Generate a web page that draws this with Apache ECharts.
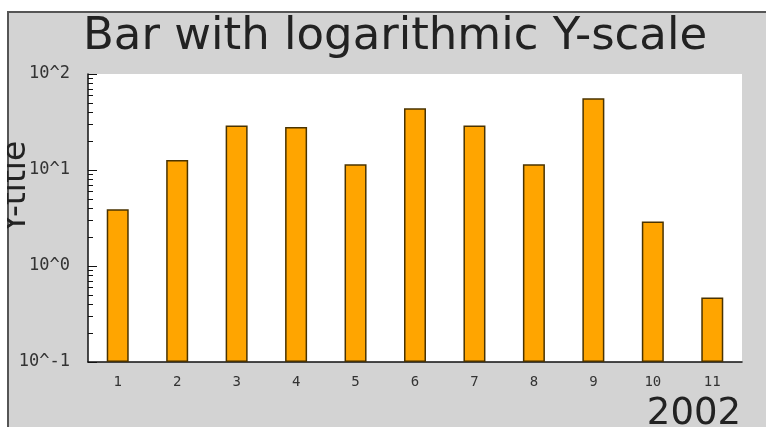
<!DOCTYPE html>
<html>
<head>
<meta charset="utf-8">
<script src="https://cdn.jsdelivr.net/npm/echarts@6/dist/echarts.min.js"></script>
<style>
  html, body { margin: 0; padding: 0; background: #fff; }
  #chart { width: 766px; height: 427px; }
</style>
</head>
<body>
<div id="chart"></div>
<script>
// categories and values
const categories = ['1', '2', '3', '4', '5', '6', '7', '8', '9', '10', '11']
const values = [3.9, 12.7, 29, 28, 11.5, 44, 29, 11.5, 56, 2.9, 0.47]
const majorTicks = [0.1, 1, 10, 100]
const minorTicks = []
for (const d of [0.1, 1, 10]) {
  for (let k = 2; k <= 9; k++) minorTicks.push(+(d * k).toPrecision(3))
}

const chart = echarts.init(document.getElementById('chart'))

const tickFont = { fontFamily: 'DejaVu Sans Mono', color: '#333' }

chart.setOption({
  animation: false,
  backgroundColor: '#fff',
  graphic: [
    {
      type: 'rect',
      z: -10,
      shape: { x: 8, y: 12, width: 770, height: 420 },
      style: { fill: '#d3d3d3', stroke: '#555', lineWidth: 2 }
    },
    {
      type: 'text',
      x: 33, y: 187,
      rotation: Math.PI / 2,
      style: {
        text: 'Y-title', font: '33px "DejaVu Sans"', fill: '#222',
        textAlign: 'center', textVerticalAlign: 'bottom'
      }
    },
    {
      // white margin that clips the y title, as in the original
      type: 'rect',
      z: 100,
      shape: { x: 0, y: 0, width: 7, height: 427 },
      style: { fill: '#fff' }
    },
    {
      type: 'text',
      right: 25, top: 396,
      style: { text: '2002', font: '37px "DejaVu Sans"', fill: '#222' }
    }
  ],
  title: {
    text: 'Bar with logarithmic Y-scale',
    left: 78,
    top: 10,
    textStyle: { fontFamily: 'DejaVu Sans', fontSize: 45, fontWeight: 'normal', color: '#222' }
  },
  grid: {
    left: 88, right: 24, top: 74, bottom: 65,
    outerBoundsMode: 'none',
    containLabel: false,
    show: true, backgroundColor: '#fff', borderWidth: 0
  },
  xAxis: {
    type: 'category',
    data: categories,
    axisLine: { lineStyle: { color: '#111', width: 1.5 } },
    axisTick: { inside: true, length: 5, lineStyle: { color: '#111' } },
    axisLabel: { ...tickFont, fontSize: 14, margin: 13 }
  },
  yAxis: [
    {
      type: 'log',
      logBase: 10,
      min: 0.1,
      max: 100,
      startValue: 0.1,
      axisLine: { show: true, lineStyle: { color: '#111', width: 1.5 } },
      axisTick: { show: true, inside: true, length: 9, customValues: majorTicks, lineStyle: { color: '#111' } },
      axisLabel: {
        ...tickFont,
        fontSize: 17,
        margin: 18,
        customValues: majorTicks,
        formatter: v => '10^' + Math.round(Math.log10(v))
      },
      splitLine: { show: false }
    },
    {
      type: 'log',
      logBase: 10,
      min: 0.1,
      max: 100,
      position: 'left',
      axisLine: { show: false },
      axisTick: { show: true, inside: true, length: 5, customValues: minorTicks, lineStyle: { color: '#111' } },
      axisLabel: { show: false },
      splitLine: { show: false }
    }
  ],
  series: [
    {
      type: 'bar',
      data: values,
      barWidth: '37%',
      itemStyle: { color: '#ffa500', borderColor: '#4a3300', borderWidth: 1.5 }
    }
  ]
})
</script>
</body>
</html>
